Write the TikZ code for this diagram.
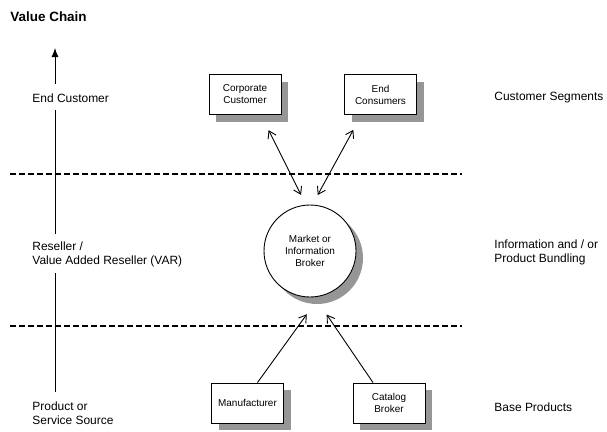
\documentclass[tikz,border=0pt]{standalone}
\usepackage{fontspec}
\setmainfont{Liberation Sans}
\usetikzlibrary{arrows.meta, shadows}
\definecolor{shadowgray}{RGB}{150,150,150}

\begin{document}
\begin{tikzpicture}[x=1bp, y=-1bp, line width=0.9bp,
    >={Straight Barb[length=7bp,width=9bp]},
    actor/.style={draw, fill=white, minimum width=72bp, minimum height=40bp,
      align=center, inner sep=2bp, font=\fontsize{10}{12}\selectfont,
      drop shadow={shadow xshift=7bp, shadow yshift=-7bp, fill=shadowgray, opacity=1}},
    hub/.style={actor, circle, minimum size=92bp, minimum height=0bp},
    level/.style={anchor=west, align=left, inner sep=0pt, font=\fontsize{12}{14}\selectfont},
    border/.style={line width=1.3bp, dash pattern=on 5.5bp off 3.5bp}]
  \useasboundingbox (0,0) rectangle (607,431);

  % Title
  \node[anchor=west, inner sep=0pt, font=\bfseries\fontsize{13.5}{16}\selectfont] (title) at (10,17) {Value Chain};

  % Value chain axis
  \coordinate (ax0) at (55,392);
  \coordinate (ax1) at (55,273);
  \coordinate (ax2) at (55,234);
  \coordinate (ax3) at (55,110);
  \coordinate (ax4) at (55,84);
  \coordinate (ax5) at (55,48);
  \draw (ax0) -- (ax1);
  \draw (ax2) -- (ax3);
  \draw[-{Latex[length=9bp,width=7bp]}] (ax4) -- (ax5);

  % Levels (left)
  \node[level] (endcust) at (32,98) {End Customer};
  \node[level] (reseller) at (32,254) {Reseller /\\Value Added Reseller (VAR)};
  \node[level] (source) at (32,413) {Product or\\Service Source};

  % Levels (right)
  \node[level] (segments) at (494,98) {Customer Segments};
  \node[level] (bundling) at (494,252) {Information and / or\\Product Bundling};
  \node[level] (baseprod) at (494,407) {Base Products};

  % Borders between levels
  \coordinate (b1w) at (10,174);
  \coordinate (b1e) at (462,174);
  \coordinate (b2w) at (10,326);
  \coordinate (b2e) at (462,326);
  \draw[border] (b1w) -- (b1e);
  \draw[border] (b2w) -- (b2e);

  % Actors
  \node[actor] (corp) at (245,94.5) {Corporate\\Customer};
  \node[actor] (cons) at (380.5,94.5) {End\\Consumers};
  \node[hub] (broker) at (310,251) {Market or\\Information\\Broker};
  \node[actor] (manu) at (247.5,403) {Manufacturer};
  \node[actor] (cat) at (389,403) {Catalog\\Broker};

  % Flows
  \draw[<->, shorten <=17bp, shorten >=11bp] ([xshift=16bp]corp.south) -- (broker.95);
  \draw[<->, shorten <=17bp, shorten >=11bp] ([xshift=-19bp]cons.south) -- (broker.87);
  \draw[->, shorten >=22bp] ([xshift=10bp]manu.north) -- (broker.-78);
  \draw[->, shorten >=21bp] ([xshift=-16bp]cat.north) -- (broker.-84);
\end{tikzpicture}
\end{document}
